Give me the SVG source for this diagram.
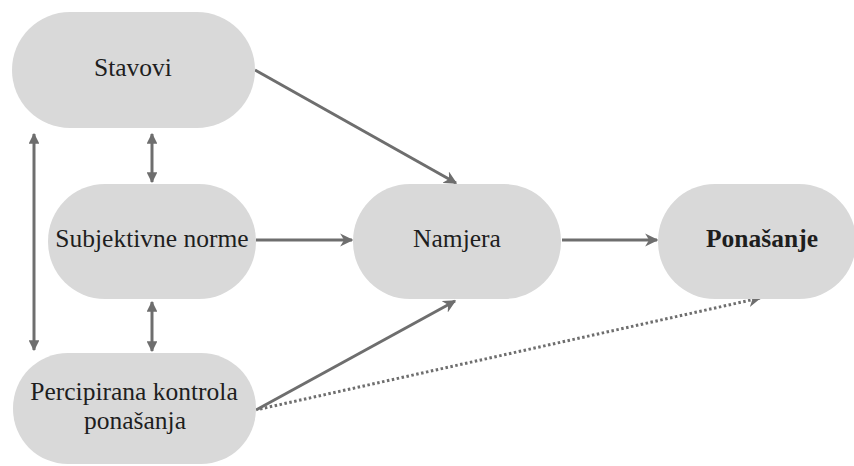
<svg xmlns="http://www.w3.org/2000/svg" width="854" height="466" viewBox="0 0 854 466">
<style>
.n{fill:#d9d9d9;}
.t{font-family:'Liberation Serif','DejaVu Serif',serif;font-size:25.5px;fill:#1e1e1e;text-anchor:middle;}
.b{font-weight:bold;}
.c{stroke:#6e6e6e;stroke-width:3;fill:none;}
.d{stroke:#6e6e6e;stroke-width:3;fill:none;stroke-dasharray:2.5 2.5;}
</style>
<defs>
<marker id="ah" viewBox="0 0 10 10" refX="9" refY="5" markerWidth="4.4" markerHeight="4.4" markerUnits="strokeWidth" orient="auto-start-reverse">
<path d="M0,0 L10,5 L0,10 L3,5 Z" fill="#6e6e6e"/>
</marker>
<marker id="tri" viewBox="0 0 10 10" refX="9" refY="5" markerWidth="3.6" markerHeight="3.6" markerUnits="strokeWidth" orient="auto-start-reverse">
<path d="M0,0 L10,5 L0,10 Z" fill="#6e6e6e"/>
</marker>
</defs>
<rect width="854" height="466" fill="#ffffff"/>
<g id="connectors">
<line class="c" x1="34" y1="134" x2="34" y2="350" marker-start="url(#tri)" marker-end="url(#tri)"/>
<line class="c" x1="152" y1="134" x2="152" y2="182" marker-start="url(#tri)" marker-end="url(#tri)"/>
<line class="c" x1="152" y1="302" x2="152" y2="351" marker-start="url(#tri)" marker-end="url(#tri)"/>
<line class="c" x1="255" y1="70" x2="456" y2="183" marker-end="url(#ah)"/>
<line class="c" x1="256" y1="240" x2="352" y2="240" marker-end="url(#ah)"/>
<line class="c" x1="256" y1="410" x2="455" y2="301" marker-end="url(#ah)"/>
<line class="c" x1="562" y1="240" x2="657" y2="240" marker-end="url(#ah)"/>
<line class="d" x1="260" y1="409" x2="760" y2="298" marker-end="url(#ah)"/>
</g>
<g id="stavovi">
<rect class="n" x="12" y="12" width="243" height="116" rx="58"/>
<text class="t" x="133" y="76">Stavovi</text>
</g>
<g id="subjektivne-norme">
<rect class="n" x="48" y="184" width="208" height="115" rx="57"/>
<text class="t" x="152" y="247">Subjektivne norme</text>
</g>
<g id="percipirana-kontrola">
<rect class="n" x="13" y="353" width="243" height="111" rx="55"/>
<text class="t" x="134" y="400">Percipirana kontrola</text>
<text class="t" x="135" y="429">ponašanja</text>
</g>
<g id="namjera">
<rect class="n" x="353" y="184" width="208" height="115" rx="57"/>
<text class="t" x="457" y="247">Namjera</text>
</g>
<g id="ponasanje">
<rect class="n" x="658" y="184" width="198" height="115" rx="57"/>
<text class="t b" x="762" y="247">Ponašanje</text>
</g>
</svg>
